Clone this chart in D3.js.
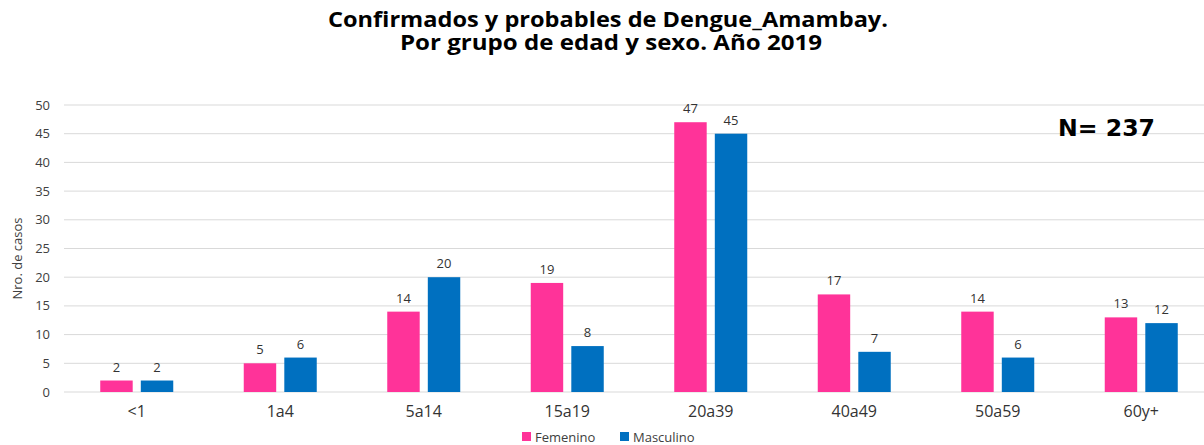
<!DOCTYPE html>
<html>
<head>
<meta charset="utf-8">
<script src="https://cdn.jsdelivr.net/npm/d3@7"></script>
<style>
  body { margin: 0; background: #fff; }
  svg { font-family: "Open Sans", "DejaVu Sans", sans-serif; }
</style>
</head>
<body>
<svg width="1204" height="445"></svg>
<script>
var svg = d3.select('svg');

var categories = ['<1', '1a4', '5a14', '15a19', '20a39', '40a49', '50a59', '60y+'];
var femenino = [2, 5, 14, 19, 47, 17, 14, 13];
var masculino = [2, 6, 20, 8, 45, 7, 6, 12];
var yTicks = [0, 5, 10, 15, 20, 25, 30, 35, 40, 45, 50];
var seriesNames = ['Femenino', 'Masculino'];
var colors = ['#FF3399', '#0070C0'];

// plot area runs a bit past the right edge of the picture
var plotLeft = 65, plotRight = 1213, plotTop = 105, plotBottom = 392;

var x = d3.scaleBand().domain(categories).range([plotLeft, plotRight]);
var y = d3.scaleLinear().domain([0, 50]).range([plotBottom, plotTop]);
var sub = d3.scaleBand().domain(seriesNames).range([-36.5, 36.5]).paddingInner(0.2);

// gridlines
svg.append('g').selectAll('line').data(yTicks).enter().append('line')
  .attr('x1', plotLeft - 1).attr('x2', plotRight)
  .attr('y1', d => y(d)).attr('y2', d => y(d))
  .attr('stroke', '#d9d9d9').attr('stroke-width', 1);

// y tick labels
svg.append('g').selectAll('text').data(yTicks).enter().append('text')
  .attr('x', 50).attr('y', d => y(d)).attr('dy', '0.35em')
  .attr('text-anchor', 'end').attr('font-size', 13).attr('fill', '#404040')
  .text(d => d);

// y axis title
svg.append('text')
  .attr('transform', 'translate(22,' + ((plotTop + plotBottom) / 2 + 10) + ') rotate(-90)')
  .attr('text-anchor', 'middle').attr('font-size', 13).attr('fill', '#404040')
  .text('Nro. de casos');

// bars
var series = [femenino, masculino];
series.forEach(function(vals, s) {
  var g = svg.append('g');
  g.selectAll('rect').data(vals).enter().append('rect')
    .attr('x', (d, i) => x(categories[i]) + x.bandwidth() / 2 + sub(seriesNames[s]))
    .attr('width', sub.bandwidth())
    .attr('y', d => y(d))
    .attr('height', d => y(0) - y(d))
    .attr('fill', colors[s]);
  g.selectAll('text').data(vals).enter().append('text')
    .attr('x', (d, i) => x(categories[i]) + x.bandwidth() / 2 + sub(seriesNames[s]) + sub.bandwidth() / 2)
    .attr('y', d => y(d) - 9)
    .attr('text-anchor', 'middle').attr('font-size', 13).attr('fill', '#333')
    .text(d => d);
});

// x labels
svg.append('g').selectAll('text').data(categories).enter().append('text')
  .attr('x', d => x(d) + x.bandwidth() / 2).attr('y', 417)
  .attr('text-anchor', 'middle').attr('font-size', 16).attr('fill', '#333')
  .text(d => d);

// legend
var legend = svg.append('g').attr('transform', 'translate(522,437)');
var lx = [0, 98];
seriesNames.forEach(function(n, i) {
  legend.append('rect').attr('x', lx[i]).attr('y', -5).attr('width', 9).attr('height', 9).attr('fill', colors[i]);
  legend.append('text').attr('x', lx[i] + 13).attr('y', 0).attr('dy', '0.35em')
    .attr('font-size', 13).attr('fill', '#404040').text(n);
});

// title
var title = svg.append('text').attr('font-weight', 'bold')
  .attr('font-size', 21).attr('fill', '#000');
title.append('tspan').attr('x', 328).attr('y', 27)
  .attr('textLength', 560).attr('lengthAdjust', 'spacingAndGlyphs')
  .text('Confirmados y probables de Dengue_Amambay.');
title.append('tspan').attr('x', 400).attr('y', 50)
  .attr('textLength', 422).attr('lengthAdjust', 'spacingAndGlyphs')
  .text('Por grupo de edad y sexo. Año 2019');

// N label
svg.append('text').attr('x', 1058).attr('y', 136)
  .attr('font-family', '"DejaVu Sans", sans-serif')
  .attr('font-weight', 'bold').attr('font-size', 23).attr('fill', '#000')
  .attr('textLength', 97).attr('lengthAdjust', 'spacingAndGlyphs')
  .text('N= 237');
</script>
</body>
</html>
